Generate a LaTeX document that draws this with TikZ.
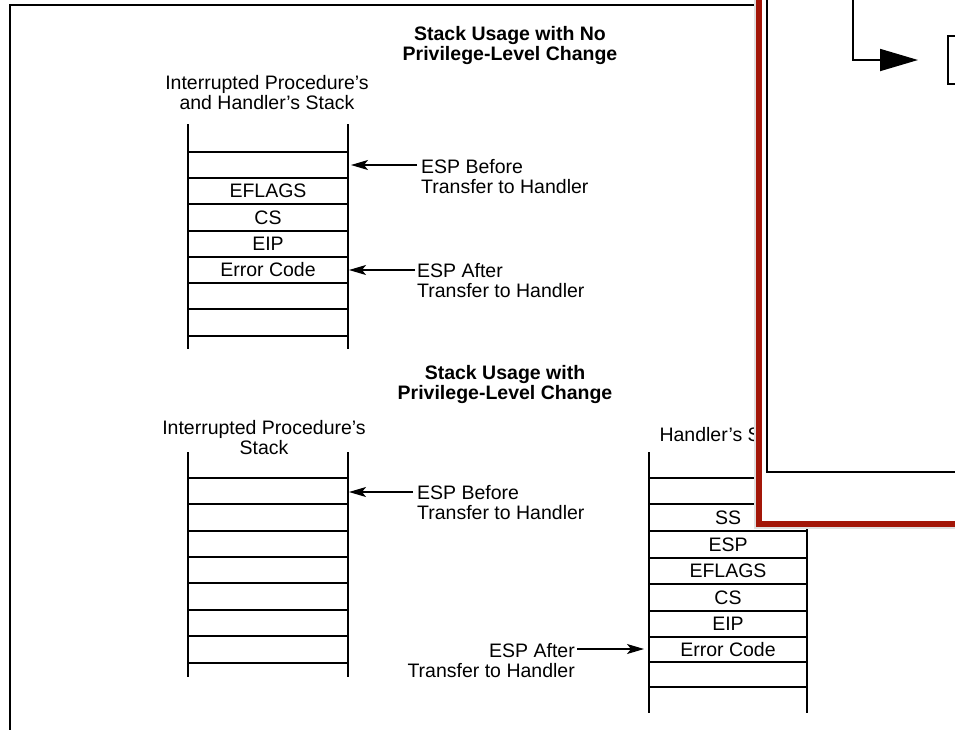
\documentclass[tikz,border=0pt]{standalone}
\usepackage{fontspec}
\setmainfont{Liberation Sans}
\usetikzlibrary{arrows.meta}
\definecolor{winred}{RGB}{163,22,8}

\begin{document}
\begin{tikzpicture}[x=1pt,y=-1pt,
    lbl/.style={inner sep=0pt,font=\fontsize{19.5}{20}\selectfont},
    ttl/.style={inner sep=0pt,align=center,font=\fontsize{19.5}{20}\selectfont\bfseries},
    rail/.style={line width=2pt},
    rung/.style={line width=1.2pt},
    esp/.style={line width=1.2pt,-{Stealth[length=17pt,width=10pt,inset=4pt]}}]
  \useasboundingbox (0,0) rectangle (955,729);
  \clip (0,0) rectangle (955,729);
  \draw[line width=2.5pt] (10,735) -- (10,5) -- (770,5);

  % no privilege-level change
  \node[ttl] (hdrA) at (510,45) {Stack Usage with No\\Privilege-Level Change};
  \node[lbl,align=center] (stkA) at (267,93) {Interrupted Procedure’s\\and Handler’s Stack};
  \draw[rail] (188,124) -- (188,349) (348,124) -- (348,349);
  \draw[rung] (188,152) -- (348,152) (188,178) -- (348,178) (188,204) -- (348,204)
    (188,231) -- (348,231) (188,257) -- (348,257) (188,283) -- (348,283)
    (188,309) -- (348,309) (188,336) -- (348,336);
  \node[lbl] (eflA) at (268,191) {EFLAGS};
  \node[lbl] (csA) at (268,217.5) {CS};
  \node[lbl] (eipA) at (268,244) {EIP};
  \node[lbl] (errA) at (268,270) {Error Code};
  \coordinate (topA) at (351,165);
  \coordinate (botA) at (349,270);
  \node[lbl,align=left,anchor=west,inner sep=4pt] (befA) at (417,177) {ESP Before\\Transfer to Handler};
  \node[lbl,align=left,anchor=west,inner sep=2pt] (aftA) at (415,281) {ESP After\\Transfer to Handler};
  \draw[esp] (befA.west |- topA) -- (topA);
  \draw[esp] (aftA.west |- botA) -- (botA);

  % privilege-level change
  \node[ttl] (hdrB) at (505,384) {Stack Usage with\\Privilege-Level Change};
  \node[lbl,align=center] (stkB) at (264,438) {Interrupted Procedure’s\\Stack};
  \draw[rail] (188,452) -- (188,677) (348,452) -- (348,677);
  \draw[rung] (188,478) -- (348,478) (188,504) -- (348,504) (188,531) -- (348,531)
    (188,557) -- (348,557) (188,583) -- (348,583) (188,610) -- (348,610)
    (188,636) -- (348,636) (188,663) -- (348,663);
  \coordinate (topB) at (349,492);
  \node[lbl,align=left,anchor=west,inner sep=4pt] (befB) at (413,503) {ESP Before\\Transfer to Handler};
  \draw[esp] (befB.west |- topB) -- (topB);

  \node[lbl] (stkC) at (728,435) {Handler’s Stack};
  \draw[rail] (649,452) -- (649,713) (807,452) -- (807,713);
  \draw[rung] (649,478) -- (807,478) (649,504) -- (807,504) (649,531) -- (807,531)
    (649,558) -- (807,558) (649,584) -- (807,584) (649,611) -- (807,611)
    (649,637) -- (807,637) (649,662) -- (807,662) (649,687) -- (807,687);
  \node[lbl] (ssC) at (728,517.5) {SS};
  \node[lbl] (espC) at (728,544.5) {ESP};
  \node[lbl] (eflC) at (728,571) {EFLAGS};
  \node[lbl] (csC) at (728,597.5) {CS};
  \node[lbl] (eipC) at (728,624) {EIP};
  \node[lbl] (errC) at (728,649.5) {Error Code};
  \coordinate (botC) at (644,649);
  \node[lbl,align=right,anchor=east,inner sep=2pt] (aftC) at (577,661) {ESP After\\Transfer to Handler};
  \draw[esp] (aftC.east |- botC) -- (botC);

  % window lying over the figure
  \fill[black!12] (754,-20) rectangle (990,529);
  \filldraw[draw=winred,fill=white,line width=6pt] (759,-20) rectangle (990,524);
  \draw[line width=1.8pt] (767,-20) -- (767,472) -- (990,472);
  \node[draw,line width=1.5pt,minimum width=60pt,minimum height=48pt,anchor=west] (tgt) at (947,60) {};
  \coordinate (src) at (853,-10);
  \draw[line width=1.8pt,-{Triangle[length=38pt,width=22pt]}] (src) |- ([xshift=-29pt]tgt.west);
\end{tikzpicture}
\end{document}
